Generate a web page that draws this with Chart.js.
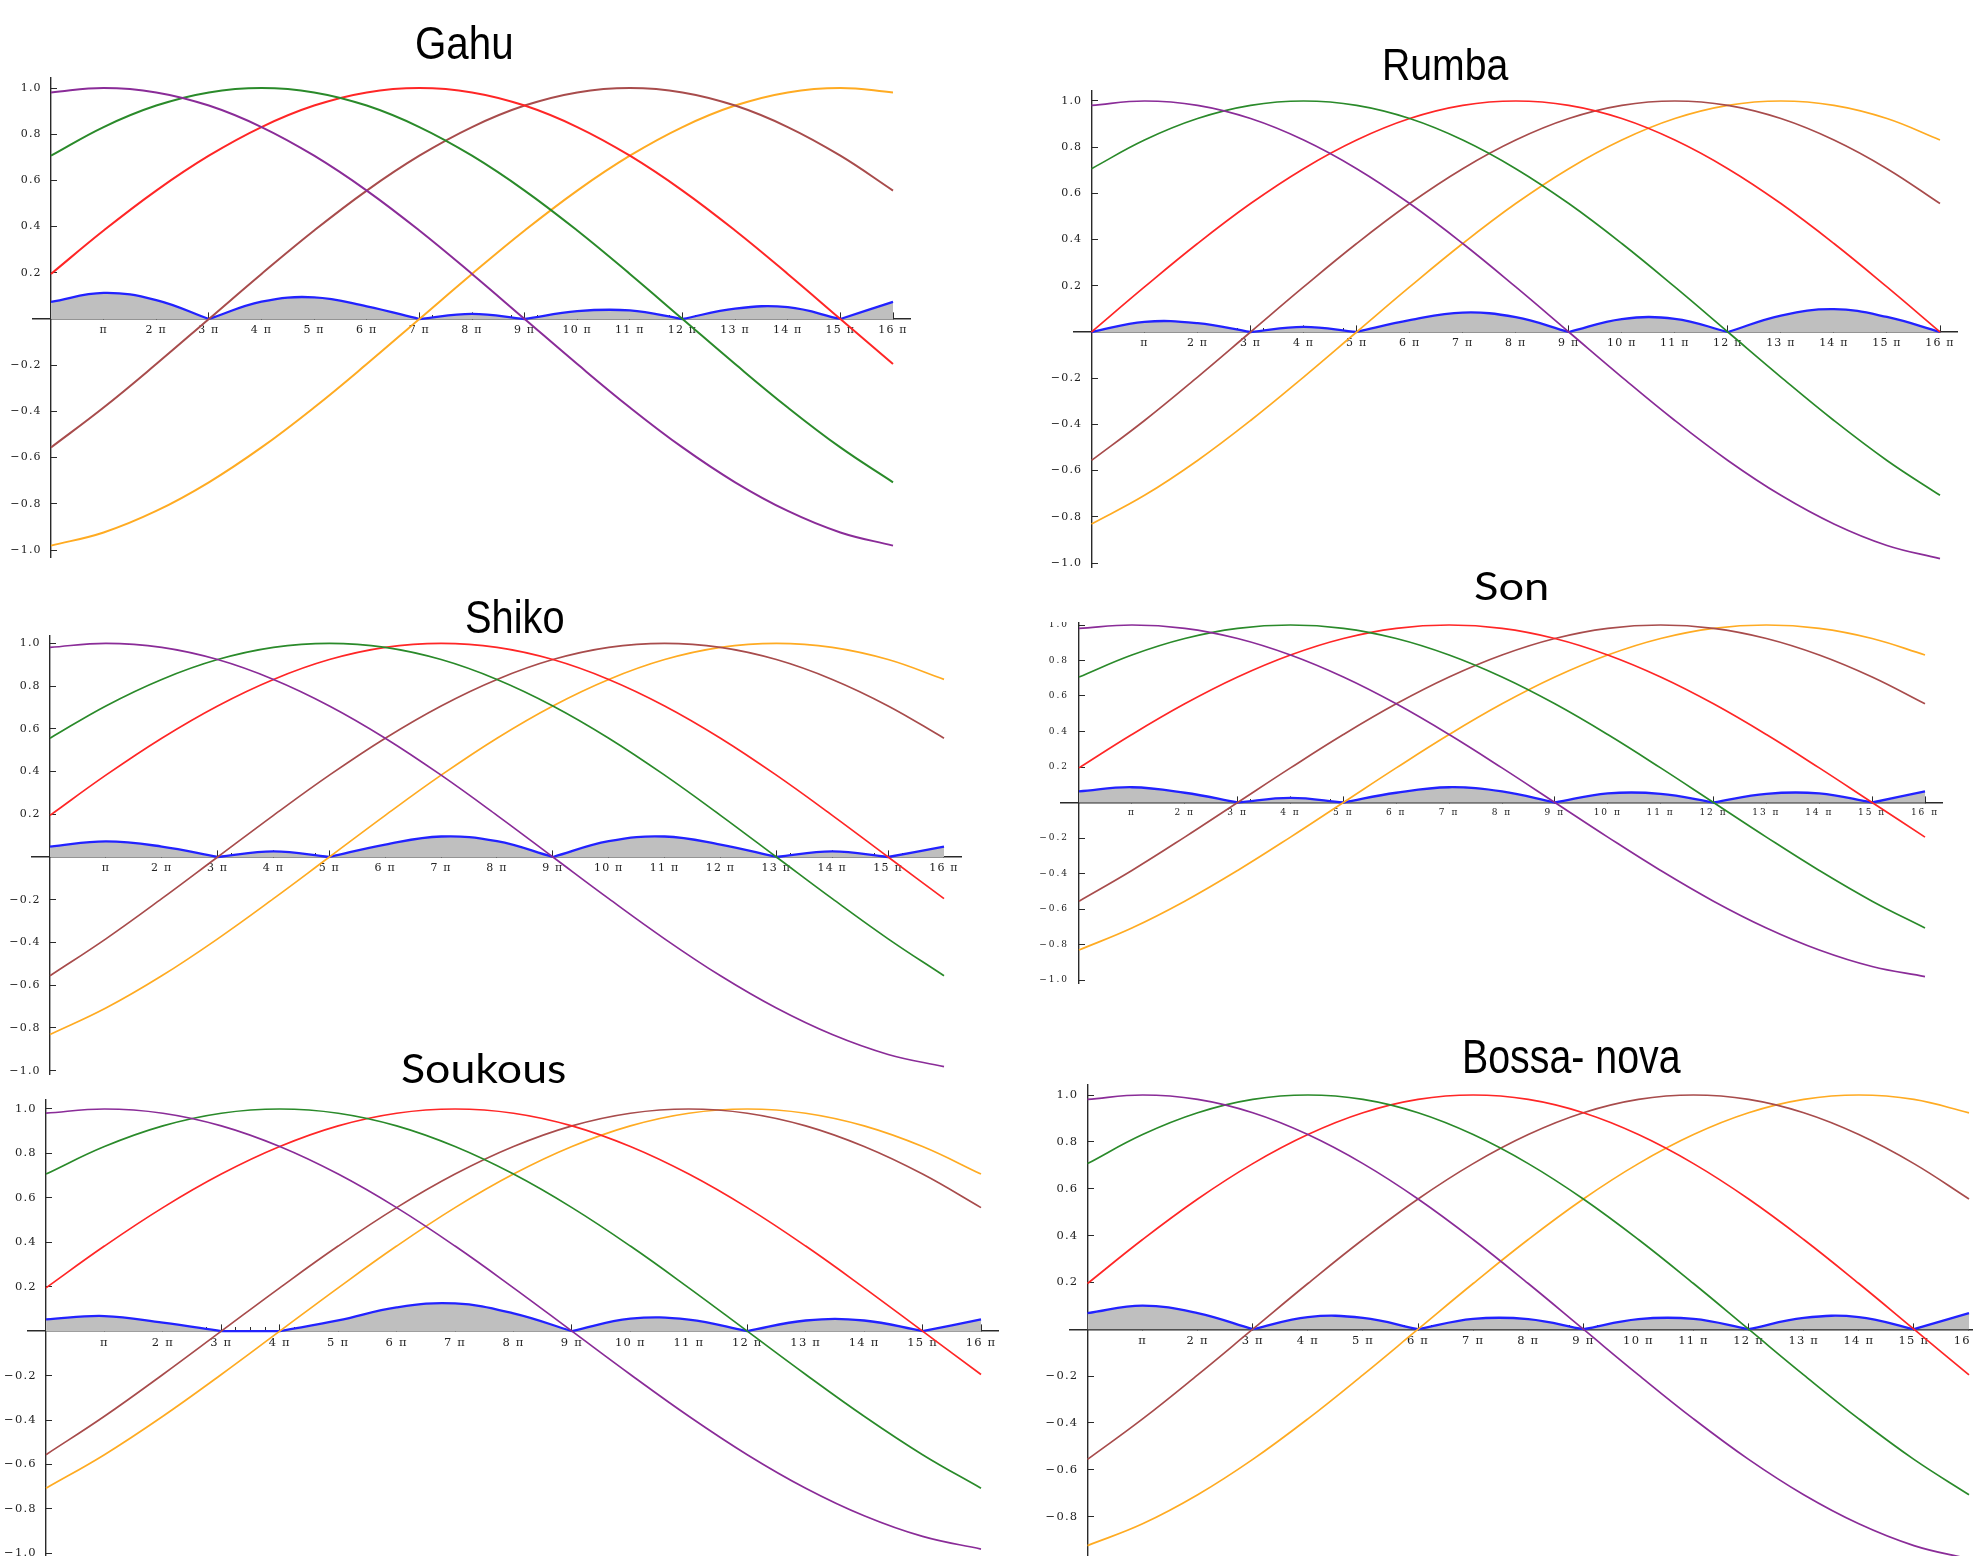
<!DOCTYPE html>
<html><head><meta charset="utf-8">
<script src="https://cdn.jsdelivr.net/npm/chart.js@4.4.0/dist/chart.umd.min.js"></script>
<style>
html,body{margin:0;padding:0;background:#fff;overflow:hidden;}
#page{position:relative;width:1973px;height:1556px;overflow:hidden;background:#fff;}
#page canvas{position:absolute;}
.ttl{position:absolute;white-space:nowrap;color:#000;transform-origin:0 0;margin:0;padding:0;}
</style></head><body><div id="page"></div>
<script>
// ---------- DATA (x in units of π) ----------
const xPi = [0,1,2,3,4,5,6,7,8,9,10,11,12,13,14,15,16];
const xMajorTicks = [1,2,3,4,5,6,7,8,9,10,11,12,13,14,15,16];
const yTicks = [-1,-0.8,-0.6,-0.4,-0.2,0.2,0.4,0.6,0.8,1];
const titles = ['Gahu','Rumba','Shiko','Son','Soukous','Bossa- nova'];

// Gahu
const gahuPurple = [0.981,1,0.981,0.924,0.831,0.707,0.556,0.383,0.195,0,-0.195,-0.383,-0.556,-0.707,-0.831,-0.924,-0.981];
const gahuGreen  = [0.707,0.831,0.924,0.981,1,0.981,0.924,0.831,0.707,0.556,0.383,0.195,0,-0.195,-0.383,-0.556,-0.707];
const gahuRed    = [0.195,0.383,0.556,0.707,0.831,0.924,0.981,1,0.981,0.924,0.831,0.707,0.556,0.383,0.195,0,-0.195];
const gahuBrown  = [-0.556,-0.383,-0.195,0,0.195,0.383,0.556,0.707,0.831,0.924,0.981,1,0.981,0.924,0.831,0.707,0.556];
const gahuOrange = [-0.981,-0.924,-0.831,-0.707,-0.556,-0.383,-0.195,0,0.195,0.383,0.556,0.707,0.831,0.924,0.981,1,0.981];
const gahuBlue   = [0.074,0.113,0.082,0,0.075,0.094,0.055,0,0.022,0,0.034,0.037,0,0.045,0.051,0,0.074];

// Rumba
const rumbaPurple = [0.981,1,0.981,0.924,0.831,0.707,0.556,0.383,0.195,0,-0.195,-0.383,-0.556,-0.707,-0.831,-0.924,-0.981];
const rumbaGreen  = [0.707,0.831,0.924,0.981,1,0.981,0.924,0.831,0.707,0.556,0.383,0.195,0,-0.195,-0.383,-0.556,-0.707];
const rumbaRed    = [0,0.195,0.383,0.556,0.707,0.831,0.924,0.981,1,0.981,0.924,0.831,0.707,0.556,0.383,0.195,0];
const rumbaBrown  = [-0.556,-0.383,-0.195,0,0.195,0.383,0.556,0.707,0.831,0.924,0.981,1,0.981,0.924,0.831,0.707,0.556];
const rumbaOrange = [-0.831,-0.707,-0.556,-0.383,-0.195,0,0.195,0.383,0.556,0.707,0.831,0.924,0.981,1,0.981,0.924,0.831];
const rumbaBlue   = [0,0.044,0.038,0,0.022,0,0.051,0.084,0.064,0,0.056,0.057,0,0.071,0.099,0.065,0];

// Shiko
const shikoPurple = [0.981,1,0.981,0.924,0.831,0.707,0.556,0.383,0.195,0,-0.195,-0.383,-0.556,-0.707,-0.831,-0.924,-0.981];
const shikoGreen  = [0.556,0.707,0.831,0.924,0.981,1,0.981,0.924,0.831,0.707,0.556,0.383,0.195,0,-0.195,-0.383,-0.556];
const shikoRed    = [0.195,0.383,0.556,0.707,0.831,0.924,0.981,1,0.981,0.924,0.831,0.707,0.556,0.383,0.195,0,-0.195];
const shikoBrown  = [-0.556,-0.383,-0.195,0,0.195,0.383,0.556,0.707,0.831,0.924,0.981,1,0.981,0.924,0.831,0.707,0.556];
const shikoOrange = [-0.831,-0.707,-0.556,-0.383,-0.195,0,0.195,0.383,0.556,0.707,0.831,0.924,0.981,1,0.981,0.924,0.831];
const shikoBlue   = [0.049,0.073,0.049,0,0.026,0,0.058,0.096,0.074,0,0.074,0.096,0.058,0,0.026,0,0.049];

// Son
const sonPurple = [0.981,1,0.981,0.924,0.831,0.707,0.556,0.383,0.195,0,-0.195,-0.383,-0.556,-0.707,-0.831,-0.924,-0.981];
const sonGreen  = [0.707,0.831,0.924,0.981,1,0.981,0.924,0.831,0.707,0.556,0.383,0.195,0,-0.195,-0.383,-0.556,-0.707];
const sonRed    = [0.195,0.383,0.556,0.707,0.831,0.924,0.981,1,0.981,0.924,0.831,0.707,0.556,0.383,0.195,0,-0.195];
const sonBrown  = [-0.556,-0.383,-0.195,0,0.195,0.383,0.556,0.707,0.831,0.924,0.981,1,0.981,0.924,0.831,0.707,0.556];
const sonOrange = [-0.831,-0.707,-0.556,-0.383,-0.195,0,0.195,0.383,0.556,0.707,0.831,0.924,0.981,1,0.981,0.924,0.831];
const sonBlue   = [0.063,0.086,0.055,0,0.026,0,0.055,0.086,0.063,0,0.051,0.049,0,0.049,0.051,0,0.063];

// Soukous
const soukousPurple = [0.981,1,0.981,0.924,0.831,0.707,0.556,0.383,0.195,0,-0.195,-0.383,-0.556,-0.707,-0.831,-0.924,-0.981];
const soukousGreen  = [0.707,0.831,0.924,0.981,1,0.981,0.924,0.831,0.707,0.556,0.383,0.195,0,-0.195,-0.383,-0.556,-0.707];
const soukousRed    = [0.195,0.383,0.556,0.707,0.831,0.924,0.981,1,0.981,0.924,0.831,0.707,0.556,0.383,0.195,0,-0.195];
const soukousBrown  = [-0.556,-0.383,-0.195,0,0.195,0.383,0.556,0.707,0.831,0.924,0.981,1,0.981,0.924,0.831,0.707,0.556];
const soukousOrange = [-0.707,-0.556,-0.383,-0.195,0,0.195,0.383,0.556,0.707,0.831,0.924,0.981,1,0.981,0.924,0.831,0.707];
const soukousBlue   = [0.053,0.068,0.038,0,0,0.048,0.107,0.125,0.080,0,0.056,0.052,0,0.048,0.048,0,0.053];

// Bossa-nova
const bossaPurple = [0.981,1,0.981,0.924,0.831,0.707,0.556,0.383,0.195,0,-0.195,-0.383,-0.556,-0.707,-0.831,-0.924,-0.981];
const bossaGreen  = [0.707,0.831,0.924,0.981,1,0.981,0.924,0.831,0.707,0.556,0.383,0.195,0,-0.195,-0.383,-0.556,-0.707];
const bossaRed    = [0.195,0.383,0.556,0.707,0.831,0.924,0.981,1,0.981,0.924,0.831,0.707,0.556,0.383,0.195,0,-0.195];
const bossaBrown  = [-0.556,-0.383,-0.195,0,0.195,0.383,0.556,0.707,0.831,0.924,0.981,1,0.981,0.924,0.831,0.707,0.556];
const bossaOrange = [-0.924,-0.831,-0.707,-0.556,-0.383,-0.195,0,0.195,0.383,0.556,0.707,0.831,0.924,0.981,1,0.981,0.924];
const bossaBlue   = [0.069,0.101,0.069,0,0.052,0.048,0,0.044,0.043,0,0.043,0.044,0,0.048,0.052,0,0.069];

// ---------- STYLE / LAYOUT ----------
const seriesColors = ['#8a2c98','#2a8a2a','#ff2626','#a84c4c','#ffab22'];
const BLUE = '#2222ff', FILL = '#bfbfbf', AXIS = '#2a2a2a';
const OH_L = 18, OH_R = 17, PAD = 40;
const ARIAL = "'Liberation Sans', Arial, sans-serif";
const CAL = "Lato, 'Open Sans', sans-serif";
const SERIF = "'DejaVu Serif', 'Liberation Serif', serif";

const panels = [
  {title: titles[0], series: [gahuPurple,gahuGreen,gahuRed,gahuBrown,gahuOrange], blue: gahuBlue,
   geo: {x0: 51, x16: 893, y1: 88, ym1: 550, ohT: 10, ohB: 7, fs: 11, ls: 1.2, lw: 2},
   tb: {l: 416.7, r: 511.4, t: 25.9, b: 59.2, font: ARIAL}},
  {title: titles[1], series: [rumbaPurple,rumbaGreen,rumbaRed,rumbaBrown,rumbaOrange], blue: rumbaBlue,
   geo: {x0: 1091.5, x16: 1940, y1: 101, ym1: 563, ohT: 10, ohB: 4.5, fs: 11, ls: 1.2, lw: 1.7},
   tb: {l: 1385, r: 1509, t: 47.9, b: 80, font: ARIAL}},
  {title: titles[2], series: [shikoPurple,shikoGreen,shikoRed,shikoBrown,shikoOrange], blue: shikoBlue,
   geo: {x0: 50, x16: 944, y1: 643.3, ym1: 1070.7, ohT: 8, ohB: 4, fs: 11, ls: 1.2, lw: 1.7},
   tb: {l: 467.2, r: 563.8, t: 600, b: 633.3, font: ARIAL}},
  {title: titles[3], series: [sonPurple,sonGreen,sonRed,sonBrown,sonOrange], blue: sonBlue,
   geo: {x0: 1079, x16: 1925, y1: 625, ym1: 980, ohT: 3, ohB: 3, fs: 9, ls: 2, lw: 1.7, clipTop: 622},
   tb: {l: 1474.7, r: 1546.1, t: 571.7, b: 600, font: CAL}},
  {title: titles[4], series: [soukousPurple,soukousGreen,soukousRed,soukousBrown,soukousOrange], blue: soukousBlue,
   geo: {x0: 46, x16: 981, y1: 1109, ym1: 1553.3, ohT: 9, ohB: 6, fs: 11.5, ls: 1.2, lw: 1.7},
   tb: {l: 401.8, r: 564.4, t: 1053.3, b: 1083.3, font: CAL}},
  {title: titles[5], series: [bossaPurple,bossaGreen,bossaRed,bossaBrown,bossaOrange], blue: bossaBlue,
   geo: {x0: 1087.5, x16: 1969, y1: 1095, ym1: 1563.4, ohT: 10, ohB: 6, fs: 11.5, ls: 1.2, lw: 1.7},
   tb: {l: 1464.2, r: 1680.7, t: 1040, b: 1073, font: ARIAL}}
];

const page = document.getElementById('page');

function bluePoints(vals) {
  const pts = [];
  vals.forEach((v, i) => {
    pts.push({x: xPi[i], y: v});
    if (v === 0 && i > 0 && i < vals.length - 1) {
      pts.push({x: xPi[i], y: null});
      pts.push({x: xPi[i], y: v});
    }
  });
  return pts;
}

const minorTicks = [];
for (let i = 0; i < 16; i++) { [0.25, 0.5, 0.75].forEach(f => minorTicks.push(i + f)); }

function fmtY(v) {
  const s = Math.abs(v).toFixed(1);
  return v < 0 ? '\u2212' + s : s;
}

const measureCtx = document.createElement('canvas').getContext('2d');

panels.forEach(p => {
  const g = p.geo;
  const pxPerPi = (g.x16 - g.x0) / 16;
  const unit = (g.ym1 - g.y1) / 2;
  const aL = g.x0 - OH_L, aR = g.x16 + OH_R, aT = g.y1 - g.ohT, aB = g.ym1 + g.ohB;
  const cL = Math.floor(aL - PAD - 20), cT = Math.floor(aT - PAD), cR = Math.ceil(aR + PAD), cB = Math.ceil(aB + PAD);
  const cv = document.createElement('canvas');
  cv.width = cR - cL; cv.height = cB - cT;
  cv.style.left = cL + 'px'; cv.style.top = cT + 'px';
  cv.style.width = cv.width + 'px'; cv.style.height = cv.height + 'px';
  if (g.clipTop) cv.style.clipPath = 'inset(' + (g.clipTop - cT) + 'px 0 0 0)';
  page.appendChild(cv);

  const xmin = -OH_L / pxPerPi, xmax = 16 + OH_R / pxPerPi;
  const ymax = 1 + g.ohT / unit, ymin = -1 - g.ohB / unit;
  const tickFont = {family: SERIF, size: g.fs};

  // widest y label (as Chart.js measures it) so mirrored, right-aligned labels end 8px left of the y axis
  measureCtx.font = g.fs + 'px ' + SERIF;
  const widest = Math.max(...yTicks.map(v => measureCtx.measureText(fmtY(v)).width));
  const ylPad = (OH_L - 8) - widest - g.ls;

  const datasets = p.series.map((s, k) => ({
    data: s.map((v, i) => ({x: xPi[i], y: v})),
    borderColor: seriesColors[k], borderWidth: g.lw, fill: false, tension: 0.4,
    pointRadius: 0, xAxisID: 'x', yAxisID: 'y'
  }));
  datasets.push({
    data: bluePoints(p.blue), borderColor: BLUE, borderWidth: 2.3, backgroundColor: FILL,
    fill: 'origin', tension: 0.4, spanGaps: false, pointRadius: 0, xAxisID: 'x', yAxisID: 'y'
  });

  const spacing = {
    id: 'labelSpacing',
    beforeDraw(chart) { try { chart.ctx.letterSpacing = g.ls + 'px'; } catch (e) {} },
    afterDraw(chart) { try { chart.ctx.letterSpacing = '0px'; } catch (e) {} }
  };

  new Chart(cv, {
    type: 'line',
    data: {datasets},
    plugins: [spacing],
    options: {
      responsive: false, animation: false, devicePixelRatio: 1,
      layout: {autoPadding: false, padding: {left: aL - cL, right: cR - aR, top: aT - cT, bottom: cB - aB}},
      plugins: {legend: {display: false}, tooltip: {enabled: false}, title: {display: false}},
      elements: {point: {radius: 0}},
      scales: {
        x: {
          type: 'linear', min: xmin, max: xmax, position: {y: 0}, z: 1,
          afterBuildTicks: s => { s.ticks = xMajorTicks.map(v => ({value: v})); },
          ticks: {autoSkip: false, maxRotation: 0, padding: 12, color: '#222', font: tickFont,
                  callback: v => (v === 1 ? '\u03c0' : v + ' \u03c0')},
          grid: {display: true, drawOnChartArea: false, drawTicks: true, tickLength: -7, tickWidth: 1, tickColor: AXIS, color: AXIS},
          border: {display: true, color: AXIS, width: 1.4}
        },
        xm: {
          type: 'linear', axis: 'x', min: xmin, max: xmax, position: {y: 0}, z: 1,
          afterBuildTicks: s => { s.ticks = minorTicks.map(v => ({value: v})); },
          ticks: {autoSkip: false, maxRotation: 0, callback: () => ''},
          grid: {display: true, drawOnChartArea: false, drawTicks: true, tickLength: -4, tickWidth: 1, tickColor: AXIS, color: AXIS},
          border: {display: false}
        },
        y: {
          type: 'linear', min: ymin, max: ymax, position: {x: 0}, z: 1,
          afterBuildTicks: s => { s.ticks = yTicks.map(v => ({value: v})); },
          ticks: {autoSkip: false, callback: () => ''},
          grid: {display: true, drawOnChartArea: false, drawTicks: true, tickLength: -7, tickWidth: 1, tickColor: AXIS, color: AXIS},
          border: {display: true, color: AXIS, width: 1.4}
        },
        yl: {
          type: 'linear', axis: 'y', min: ymin, max: ymax, position: 'left', z: 1,
          afterBuildTicks: s => { s.ticks = yTicks.map(v => ({value: v})); },
          afterFit: s => { s.width = 0; },
          ticks: {autoSkip: false, mirror: true, crossAlign: 'far', padding: ylPad, color: '#222', font: tickFont,
                  callback: v => fmtY(v)},
          grid: {display: false, drawTicks: false},
          border: {display: false}
        }
      }
    }
  });

  // title as real HTML text, fitted to the measured box in the reference
  const t = p.tb;
  measureCtx.font = '100px ' + t.font;
  const m0 = measureCtx.measureText(p.title);
  const F = (t.b - t.t) / (m0.actualBoundingBoxAscent / 100);
  measureCtx.font = F + 'px ' + t.font;
  const m = measureCtx.measureText(p.title);
  const inkW = m.actualBoundingBoxLeft + m.actualBoundingBoxRight;
  const sx = (t.r - t.l) / inkW;
  const fa = m.fontBoundingBoxAscent, fd = m.fontBoundingBoxDescent;
  const d = document.createElement('div');
  d.className = 'ttl';
  d.textContent = p.title;
  d.style.fontFamily = t.font;
  d.style.fontSize = F + 'px';
  d.style.lineHeight = (fa + fd) + 'px';
  d.style.top = (t.b - fa) + 'px';
  d.style.left = (t.l + sx * m.actualBoundingBoxLeft) + 'px';
  d.style.transform = 'scaleX(' + sx + ')';
  page.appendChild(d);
});
</script></body></html>
